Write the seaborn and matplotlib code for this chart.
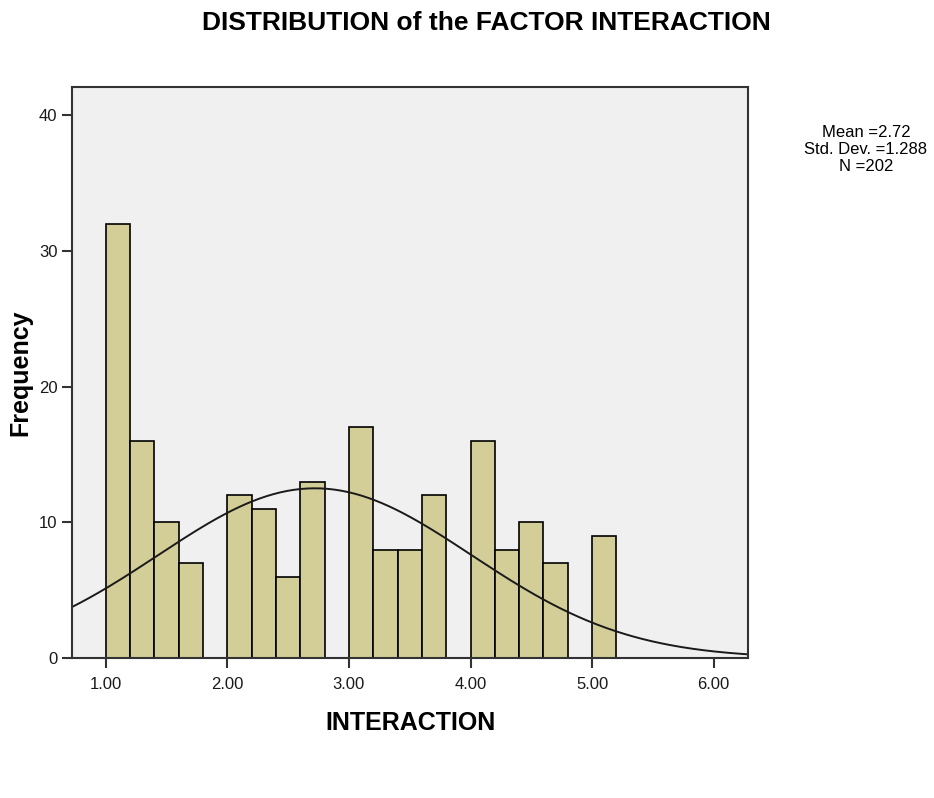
import numpy as np
import matplotlib
matplotlib.use("Agg")
import matplotlib.pyplot as plt
import seaborn as sns

#%% Data

bin_starts = [1.0, 1.2, 1.4, 1.6, 1.8, 2.0, 2.2, 2.4, 2.6, 2.8,
              3.0, 3.2, 3.4, 3.6, 3.8, 4.0, 4.2, 4.4, 4.6, 4.8, 5.0]
counts = [32, 16, 10, 7, 0, 12, 11, 6, 13, 0,
          17, 8, 8, 12, 0, 16, 8, 10, 7, 0, 9]
bin_width = 0.2

mean_val = 2.72
sd_val = 1.288
n_val = 202

x_ticks = [1, 2, 3, 4, 5, 6]
y_ticks = [0, 10, 20, 30, 40]

#%% Plot

sns.set_style("white")
plt.rcParams['font.family'] = ['Liberation Sans', 'DejaVu Sans']
plt.rcParams['text.color'] = 'black'

fig = plt.figure(figsize=(9.34, 7.98), dpi=100)
ax = fig.add_axes([0.0771, 0.1754, 0.7238, 0.7156])
ax.set_facecolor("#f0f0f0")

edges = list(bin_starts) + [bin_starts[-1] + bin_width]
mids = [b + bin_width / 2 for b in bin_starts]
sns.histplot(x=mids, weights=counts, bins=edges, ax=ax,
             color="#d3ce97", alpha=1, edgecolor="black", linewidth=1.2)

# normal curve scaled to counts
xs = np.linspace(0.72, 6.29, 300)
ys = n_val * bin_width * np.exp(-0.5 * ((xs - mean_val) / sd_val) ** 2) / (sd_val * np.sqrt(2 * np.pi))
sns.lineplot(x=xs, y=ys, ax=ax, color="#1a1a1a", linewidth=1.4)

ax.set_xlim(0.723, 6.282)
ax.set_ylim(0, 42.1)
ax.set_xticks(x_ticks)
ax.set_xticklabels([f"{t:.2f}" for t in x_ticks])
ax.set_yticks(y_ticks)
ax.tick_params(axis="both", direction="out", length=7.5, width=1.5,
               color="#333333", labelcolor="#1a1a1a", labelsize=12, pad=3,
               bottom=True, left=True)
ax.tick_params(axis="x", pad=6)

for s in ax.spines.values():
    s.set_color("#333333")
    s.set_linewidth(1.5)

ax.set_xlabel("INTERACTION", fontsize=18, fontweight="bold", color="black")
ax.xaxis.set_label_coords(0.5, -0.093)
ax.set_ylabel("Frequency", fontsize=18, fontweight="bold", color="black")
ax.yaxis.set_label_coords(-0.058, 0.5)

fig.text(0.521, 0.971, "DISTRIBUTION of the FACTOR INTERACTION",
         ha="center", va="center", fontsize=19, fontweight="bold")

fig.text(0.927, 0.813, f"Mean ={mean_val}\nStd. Dev. ={sd_val}\nN ={n_val}",
         ha="center", va="center", fontsize=12, linespacing=1.15)

plt.savefig("out.png", dpi=100)
